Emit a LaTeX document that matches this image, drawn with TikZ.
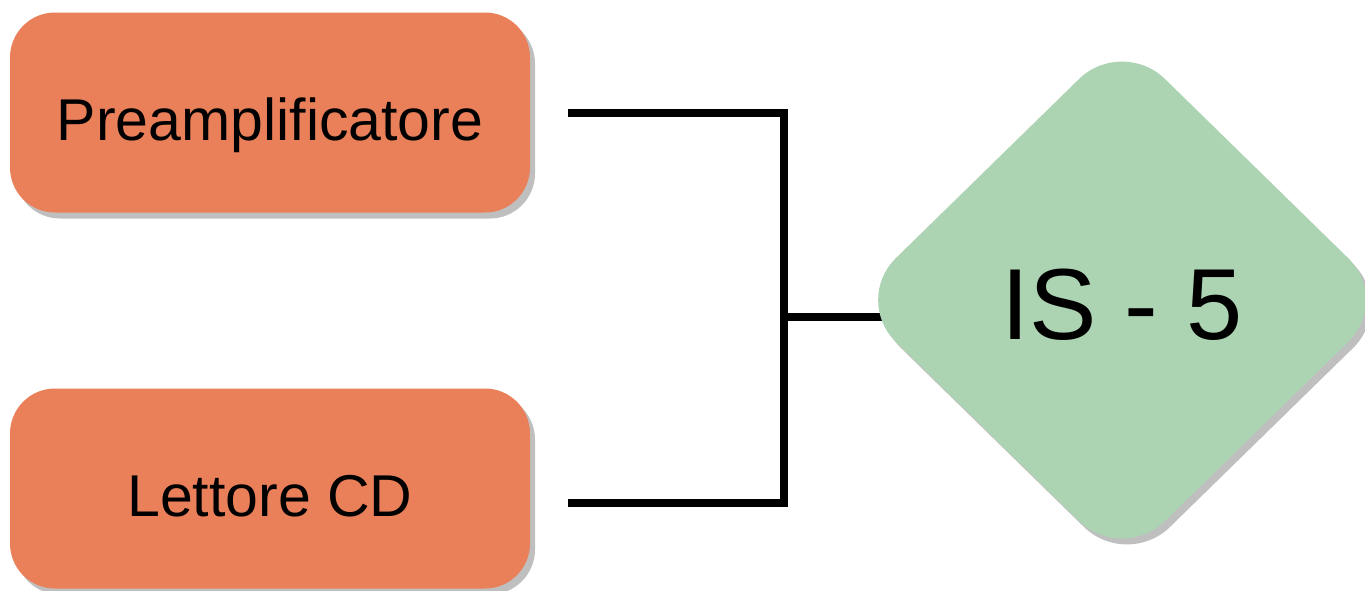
\documentclass[tikz,border=0pt]{standalone}
\usepackage{fontspec}
\setmainfont{Liberation Sans}
\usetikzlibrary{shapes.geometric}
\usetikzlibrary{shadows}
\usetikzlibrary{backgrounds}

\definecolor{unitorange}{RGB}{234,128,89}
\definecolor{isgreen}{RGB}{173,212,178}

\tikzset{
	unitbox/.style={rectangle, rounded corners=45pt, fill=unitorange, minimum width=520pt, minimum height=200pt, inner sep=0pt, outer sep=0pt, font=\fontsize{59}{70}\selectfont, text height=55pt, text depth=0pt, drop shadow={shadow xshift=5pt, shadow yshift=-6pt, opacity=0.5}},
	isbox/.style={diamond, rounded corners=60pt, fill=isgreen, minimum width=538pt, minimum height=526pt, inner sep=0pt, outer sep=0pt, font=\fontsize{101}{120}\selectfont, text height=78pt, text depth=0pt, drop shadow={shadow xshift=5pt, shadow yshift=-6pt, opacity=0.5}},
	wire/.style={line width=8pt, black}
}

\begin{document}
\begin{tikzpicture}[x=1pt, y=-1pt]
			\useasboundingbox (0, 0) rectangle (1365, 590);
			\node at (270, 112.5) [unitbox] (pre) {Preamplificatore};
			\node at (270, 488.5) [unitbox] (cd) {Lettore CD};
			\node at (1122, 300) [isbox] (is5) {IS - 5};
			\coordinate (p1) at (568, 113);
			\coordinate (p2) at (568, 503);
			\coordinate (jn) at (784, 317);
			\draw [wire] (p1) -| (jn |- p2) -- (p2);
			\begin{scope}[on background layer]
				\draw [wire] (jn) -- (jn -| is5.center);
			\end{scope}
		\end{tikzpicture}
\end{document}
